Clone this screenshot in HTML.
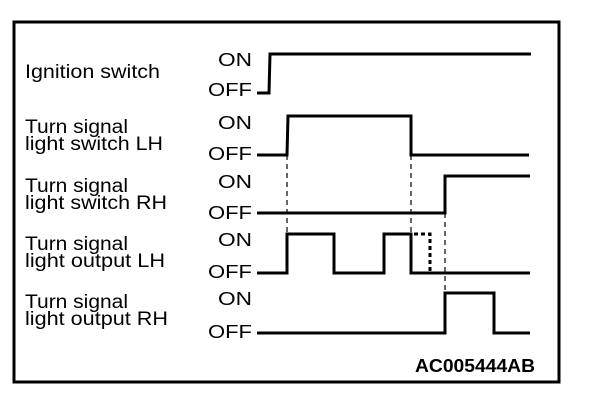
<!DOCTYPE html>
<html><head><style>
body{margin:0;background:#fff;}
svg{display:block;}
text{font-family:"Liberation Sans",Arial,sans-serif;fill:#000;}
</style></head><body>
<svg width="608" height="404" viewBox="0 0 608 404" xmlns="http://www.w3.org/2000/svg">
<rect x="14" y="22" width="545" height="360" fill="none" stroke="#000" stroke-width="3"/>
<g font-size="19" lengthAdjust="spacingAndGlyphs">
<text x="25" y="78" textLength="135" lengthAdjust="spacingAndGlyphs">Ignition switch</text>
<text x="25" y="133" textLength="103" lengthAdjust="spacingAndGlyphs">Turn signal</text><text x="25" y="150" textLength="138" lengthAdjust="spacingAndGlyphs">light switch LH</text>
<text x="25" y="192" textLength="103" lengthAdjust="spacingAndGlyphs">Turn signal</text><text x="25" y="209" textLength="142" lengthAdjust="spacingAndGlyphs">light switch RH</text>
<text x="25" y="250" textLength="103" lengthAdjust="spacingAndGlyphs">Turn signal</text><text x="25" y="267" textLength="140" lengthAdjust="spacingAndGlyphs">light output LH</text>
<text x="25" y="308" textLength="103" lengthAdjust="spacingAndGlyphs">Turn signal</text><text x="25" y="325" textLength="143" lengthAdjust="spacingAndGlyphs">light output RH</text>
</g>
<g font-size="18">
<text x="218" y="66" textLength="34" lengthAdjust="spacingAndGlyphs">ON</text><text x="208" y="96" textLength="44" lengthAdjust="spacingAndGlyphs">OFF</text>
<text x="218" y="129" textLength="34" lengthAdjust="spacingAndGlyphs">ON</text><text x="208" y="160" textLength="44" lengthAdjust="spacingAndGlyphs">OFF</text>
<text x="218" y="188" textLength="34" lengthAdjust="spacingAndGlyphs">ON</text><text x="208" y="219" textLength="44" lengthAdjust="spacingAndGlyphs">OFF</text>
<text x="218" y="246" textLength="34" lengthAdjust="spacingAndGlyphs">ON</text><text x="208" y="278" textLength="44" lengthAdjust="spacingAndGlyphs">OFF</text>
<text x="218" y="305" textLength="34" lengthAdjust="spacingAndGlyphs">ON</text><text x="208" y="338" textLength="44" lengthAdjust="spacingAndGlyphs">OFF</text>
</g>
<g fill="none" stroke="#000" stroke-width="3">
<polyline points="257,93 269,93 270,54 531,54"/>
<polyline points="257,155 287,155 288,116 411,116 411,155 529,155"/>
<polyline points="257,213 445,213 445,176 530,176"/>
<polyline points="257,273 287,273 287,234 334,234 334,273 384,273 384,234 411,234 411,273 530,273"/>
<polyline points="257,333 445,333 445,293 494,293 494,333 530,333"/>
</g>
<g stroke="#000" stroke-width="1.2" stroke-dasharray="5,4" fill="none">
<line x1="287" y1="155" x2="287" y2="234"/>
<line x1="411" y1="155" x2="411" y2="234"/>
<line x1="445" y1="213" x2="445" y2="293"/>
</g>
<g stroke="#000" stroke-width="3" stroke-dasharray="4,3" fill="none">
<polyline points="414,234 430,234 430,272"/>
</g>
<text x="415" y="372" font-size="18" font-weight="bold" textLength="120" lengthAdjust="spacingAndGlyphs">AC005444AB</text>
</svg>
</body></html>
